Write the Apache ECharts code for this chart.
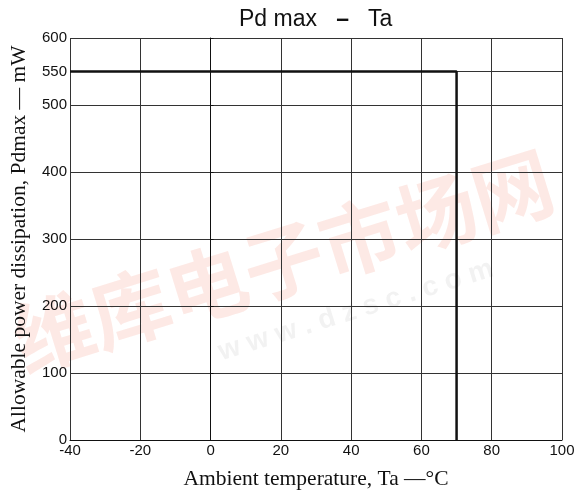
<!DOCTYPE html>
<html>
	<head>
		<meta charset="UTF-8">
		<title>Pd max - Ta</title>
		<script type="text/javascript" src="https://cdn.jsdelivr.net/npm/echarts@6/dist/echarts.min.js"></script>
		<style>
			html, body { margin: 0; padding: 0; background: #fff; }
			#chart1 { width: 575px; height: 490px; }
		</style>
	</head>
	<body>
		<div id="chart1"></div>
		<script type="text/javascript">
			// derating curve: Ta (°C) vs Pd max (mW)
			var tempData = [-40, 70, 70];
			var powerData = [550, 550, 0];
			var yTicks = [0, 100, 200, 300, 400, 500, 550, 600];
			var yGrid = [0, 100, 200, 300, 400, 500, 600];

			var myChart = echarts.init(document.getElementById('chart1'));
			var option = {
				backgroundColor: '#fff',
				animation: false,
				title: {
					text: 'Pd max   {d|\u2013}   Ta',
					left: 234,
					top: 3,
					textStyle: {
						fontFamily: 'Liberation Sans', fontWeight: 'normal', fontSize: 23, color: '#111',
						rich: { d: { fontFamily: 'Liberation Sans', fontWeight: 'bold', fontSize: 23, color: '#111' } }
					}
				},
				// watermark
				graphic: [{
					type: 'text', left: 4, top: 140, rotation: 0.3, z: -10,
					style: { text: '维库电子市场网', fontFamily: 'Noto Sans CJK SC', fontWeight: 'bold', fontSize: 80, fill: 'rgba(240,110,80,0.15)' }
				}, {
					type: 'text', left: 215, top: 255, rotation: 0.3, z: -10,
					style: { text: 'w w w . d z s c . c o m', fontFamily: 'Liberation Sans', fontWeight: 'bold', fontSize: 28, fill: 'rgba(150,150,150,0.12)' }
				}],
				grid: { left: 70, right: 13, top: 38, bottom: 50, containLabel: false, outerBoundsMode: 'none' },
				xAxis: {
					type: 'value', min: -40, max: 100, interval: 20,
					name: 'Ambient temperature, Ta \u2014\u00b0C',
					nameLocation: 'middle', nameGap: 28,
					nameTextStyle: { fontFamily: 'Liberation Serif', fontSize: 21.5, color: '#111' },
					axisLine: { show: true, lineStyle: { color: '#111', width: 1 } },
					axisTick: { show: false },
					axisLabel: { fontFamily: 'Liberation Sans', fontSize: 15, color: '#111', margin: 3 },
					splitLine: { show: true, lineStyle: { color: '#333', width: 1 } }
				},
				yAxis: {
					type: 'value', min: 0, max: 600,
					name: 'Allowable power dissipation, Pdmax \u2014 mW',
					nameLocation: 'middle', nameGap: 40,
					nameTextStyle: { fontFamily: 'Liberation Serif', fontSize: 21.5, color: '#111' },
					axisLine: { show: true, lineStyle: { color: '#111', width: 1 } },
					axisTick: { show: true, inside: true, length: 3, customValues: yTicks, lineStyle: { color: '#111' } },
					axisLabel: { fontFamily: 'Liberation Sans', fontSize: 15, color: '#111', margin: 3, customValues: yTicks },
					splitLine: { show: true, customValues: yGrid, lineStyle: { color: '#333', width: 1 } }
				},
				series: [{
					type: 'line',
					data: tempData.map(function (t, i) { return [t, powerData[i]]; }),
					symbol: 'none',
					lineStyle: { color: '#111', width: 2.5 },
					z: 5
				}]
			};
			myChart.setOption(option);
		</script>
	</body>
</html>
